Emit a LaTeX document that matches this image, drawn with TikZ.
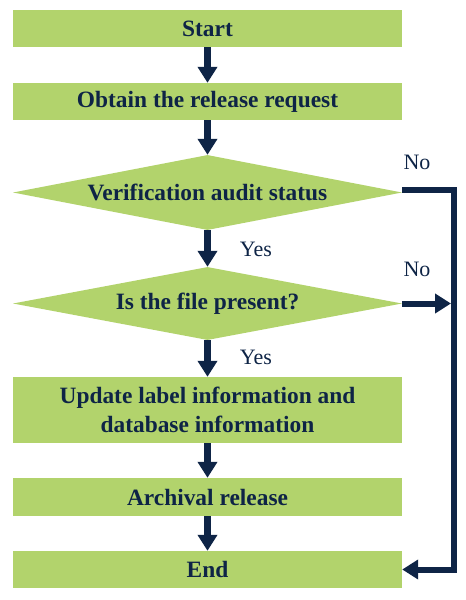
\documentclass[tikz,border=0pt]{standalone}
\usepackage{fontspec}
\setmainfont{Liberation Serif}
\usetikzlibrary{shapes.geometric,arrows.meta}
\definecolor{boxgreen}{RGB}{178,211,108}
\definecolor{navy}{RGB}{14,36,70}
\begin{document}
\begin{tikzpicture}[x=1pt,y=-1pt,
  procbox/.style={rectangle,fill=boxgreen,draw=none,minimum width=389pt,inner sep=0pt,
    font=\fontsize{23.4}{29}\selectfont\bfseries,text=navy,align=center},
  decbox/.style={diamond,shape aspect=5.2,fill=boxgreen,draw=none,minimum width=389pt,inner sep=0pt,
    font=\fontsize{23.4}{29}\selectfont\bfseries,text=navy,align=center},
  flow/.style={draw=navy,line width=7pt,-{Triangle[width=19pt,length=16pt]}},
  loopline/.style={draw=navy,line width=6pt},
  lbl/.style={font=\fontsize{22}{26}\selectfont,text=navy,inner sep=0pt}]
\useasboundingbox (0,0) rectangle (466,600);
\node[procbox,minimum height=37pt] (start) at (207.5,28.5) {Start};
\node[procbox,minimum height=37pt] (obtain) at (207.5,101.5) {Obtain the release request};
\node[decbox,minimum height=75pt] (d1) at (207.5,192.5) {Verification audit status};
\node[decbox,minimum height=73pt] (d2) at (207.5,303.5) {Is the file present?};
\node[procbox,minimum height=66pt] (update) at (207.5,410) {Update label information and\\database information};
\node[procbox,minimum height=38pt] (arch) at (207.5,497) {Archival release};
\node[procbox,minimum height=37pt] (end) at (207.5,569.5) {End};
\draw[flow] (start.south) -- (obtain.north);
\draw[flow] (obtain.south) -- (d1.north);
\draw[flow] (d1.south) -- (d2.north);
\draw[flow] (d2.south) -- (update.north);
\draw[flow] (update.south) -- (arch.north);
\draw[flow] (arch.south) -- (end.north);
\coordinate (c1) at (454,190);
\coordinate (c2) at (454,569.5);
\coordinate (c3) at (451,303.5);
\draw[loopline,line join=miter] (d1.east |- c1) -- (c1) -- (c2) -- ([xshift=14pt]end.east);
\draw[loopline,-{Triangle[width=19pt,length=16pt]}] ([xshift=16pt]end.east) -- (end.east);
\draw[loopline,-{Triangle[width=19pt,length=16pt]}] (d2.east) -- (c3);
\node[lbl] (no1) at (417,162) {No};
\node[lbl] (no2) at (417,269) {No};
\node[lbl] (yes1) at (256,249) {Yes};
\node[lbl] (yes2) at (256,357) {Yes};
\end{tikzpicture}
\end{document}
